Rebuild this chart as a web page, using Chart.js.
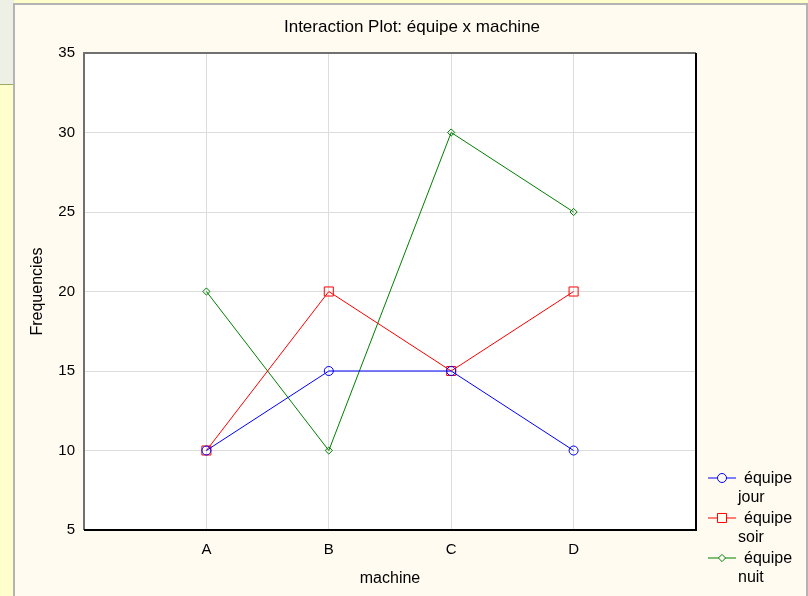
<!DOCTYPE html>
<html>
<head>
<meta charset="utf-8">
<title>Interaction Plot</title>
<script src="https://cdn.jsdelivr.net/npm/chart.js@4.4.1/dist/chart.umd.min.js"></script>
<style>
	html, body{
		margin:0;
		padding:0;
	}
	body{
		width:808px;
		height:596px;
		background-color:#ffffcc;
		position:relative;
		overflow:hidden;
	}
	#strip{
		position:absolute;
		left:0;
		top:0;
		width:14px;
		height:84px;
		background-color:#eef0e6;
		border-bottom:1px solid #9aaa60;
	}
	#panel{
		position:absolute;
		left:13px;
		top:3px;
		width:791px;
		height:600px;
		background-color:#fffbf0;
		border-left:2px solid #b4b4b4;
		border-top:2px solid #b4b4b4;
		border-right:2px solid #b4b4b4;
	}
	#plot{
		position:absolute;
		left:0;
		top:0;
	}
</style>
</head>
<body>
	<div id="strip"></div>
	<div id="panel"></div>
	<canvas id="plot" width="808" height="596"></canvas>
<script>
	// data
	machines=["A","B","C","D"];
	jour=[10,15,15,10];
	soir=[10,20,15,20];
	nuit=[20,10,30,25];
	seriesNames=["équipe jour","équipe soir","équipe nuit"];
	chartTitle="Interaction Plot: équipe x machine";
	fontFam="'Liberation Sans', Arial, sans-serif";

	function toPoints(values){
		return values.map((v,i)=>({x:i,y:v}));
	}

	// white plot area, frame, title and the wrapped legend
	const decor={
		id:'decor',
		beforeDraw:function(chart){
			var a=chart.chartArea, ctx=chart.ctx;
			ctx.save();
			ctx.fillStyle="#ffffff";
			ctx.fillRect(a.left,a.top,a.right-a.left,a.bottom-a.top);
			ctx.restore();
		},
		afterDraw:function(chart){
			var a=chart.chartArea, ctx=chart.ctx;
			ctx.save();
			//frame
			ctx.lineWidth=2;
			ctx.strokeStyle="#707070";
			ctx.beginPath();
			ctx.moveTo(a.left,a.bottom);ctx.lineTo(a.left,a.top);ctx.lineTo(a.right,a.top);
			ctx.stroke();
			ctx.strokeStyle="#000000";
			ctx.beginPath();
			ctx.moveTo(a.right,a.top);ctx.lineTo(a.right,a.bottom);ctx.lineTo(a.left,a.bottom);
			ctx.stroke();
			//title
			ctx.fillStyle="#000000";
			ctx.font="17px "+fontFam;
			ctx.textAlign="center";
			ctx.textBaseline="middle";
			ctx.fillText(chartTitle,412,27);
			//legend
			ctx.textAlign="left";
			ctx.font="16px "+fontFam;
			var y0=[478,518,558];
			chart.data.datasets.forEach(function(ds,i){
				var y=y0[i];
				ctx.strokeStyle=ds.borderColor;
				ctx.lineWidth=1;
				ctx.beginPath();
				ctx.moveTo(708,y);ctx.lineTo(736,y);
				ctx.stroke();
				ctx.fillStyle="#fffbf0";
				Chart.helpers.drawPoint(ctx,{pointStyle:ds.pointStyle,radius:ds.pointRadius,borderWidth:1},722,y);
				var words=seriesNames[i].split(" ");
				ctx.fillStyle="#000000";
				ctx.fillText(words[0],744,y+1);
				ctx.fillText(words[1],738,y+20);
			});
			ctx.restore();
		}
	};

	function dataset(values,color,style,r){
		return {
			data:toPoints(values),
			borderColor:color,
			backgroundColor:'rgba(0,0,0,0)',
			borderWidth:1,
			pointStyle:style,
			pointRadius:r,
			pointHoverRadius:r,
			pointBorderColor:color,
			pointBorderWidth:1,
			tension:0
		};
	}

	const config={
		type:'line',
		data:{
			datasets:[
				dataset(jour,'#0000ff','circle',4.5),
				dataset(soir,'#ff0000','rect',6.4),
				dataset(nuit,'#008000','rectRot',3.6)
			]
		},
		options:{
			responsive:false,
			animation:false,
			layout:{padding:{left:15,top:53,right:112,bottom:0}},
			plugins:{
				legend:{display:false},
				title:{display:false},
				tooltip:{enabled:false}
			},
			scales:{
				x:{
					type:'linear',
					min:-1,
					max:4,
					afterFit:function(s){s.height=66;},
					ticks:{
						stepSize:1,
						padding:11,
						color:'#000000',
						font:{family:fontFam,size:15},
						callback:function(v){return machines[v]!==undefined?machines[v]:'';}
					},
					grid:{
						drawTicks:false,
						color:function(c){return (c.tick && c.tick.value>=0 && c.tick.value<machines.length)?'#dcdcdc':'rgba(0,0,0,0)';}
					},
					border:{display:false},
					title:{
						display:true,
						text:'machine',
						color:'#000000',
						font:{family:fontFam,size:16},
						padding:{top:0,bottom:8}
					}
				},
				y:{
					min:5,
					max:35,
					afterFit:function(s){s.width=69;},
					ticks:{
						stepSize:5,
						padding:9,
						color:'#000000',
						font:{family:fontFam,size:15}
					},
					grid:{
						drawTicks:false,
						color:function(c){return (c.tick && c.tick.value>5 && c.tick.value<35)?'#dcdcdc':'rgba(0,0,0,0)';}
					},
					border:{display:false},
					title:{
						display:true,
						text:'Frequencies',
						color:'#000000',
						font:{family:fontFam,size:16},
						padding:{top:13,bottom:0}
					}
				}
			}
		},
		plugins:[decor]
	};
	plot=document.getElementById("plot");
	const myChart=new Chart(plot,config);
</script>
</body>
</html>
